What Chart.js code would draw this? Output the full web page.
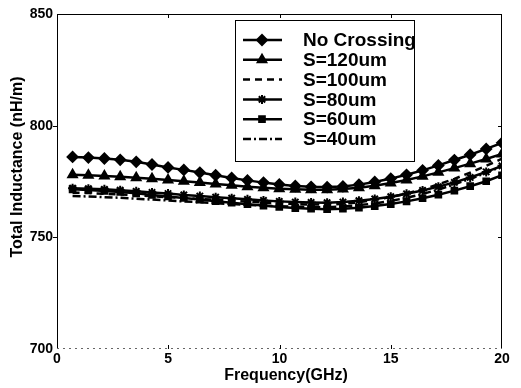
<!DOCTYPE html>
<html>
<head>
<meta charset="utf-8">
<script src="https://cdn.jsdelivr.net/npm/chart.js@4.4.1/dist/chart.umd.min.js"></script>
<style>
  html, body { margin: 0; padding: 0; background: #fff; }
  canvas { display: block; }
</style>
</head>
<body>
<canvas id="c" width="521" height="388"></canvas>
<script>
// Frequency sweep points (GHz)
const freqGHz = [0.70, 1.41, 2.13, 2.84, 3.56, 4.27, 4.99, 5.70, 6.42, 7.13,
                 7.85, 8.56, 9.28, 9.99, 10.71, 11.42, 12.14, 12.85, 13.57, 14.28,
                 15.00, 15.71, 16.43, 17.14, 17.86, 18.57, 19.29, 20.00];

// Total inductance (nH/m) for each crossing spacing
const noCrossing = [786.0, 785.7, 785.3, 784.7, 783.8, 782.6, 781.3, 780.2, 779.0, 777.8,
                    776.6, 775.5, 774.5, 773.7, 773.0, 772.6, 772.5, 772.8, 773.6, 774.8,
                    776.3, 778.0, 780.0, 782.2, 784.6, 787.0, 789.6, 792.3];
const s120 = [778.0, 777.8, 777.5, 777.1, 776.7, 776.2, 775.7, 775.1, 774.5, 773.9,
              773.3, 772.7, 772.2, 771.8, 771.5, 771.3, 771.3, 771.6, 772.2, 773.1,
              774.3, 775.7, 777.3, 779.1, 781.0, 783.0, 785.1, 787.3];
const s100 = [770.0, 769.8, 769.5, 769.2, 768.8, 768.4, 768.0, 767.6, 767.2, 766.8,
              766.4, 766.0, 765.6, 765.2, 764.9, 764.7, 764.6, 765.0, 765.7, 766.7,
              768.0, 769.6, 771.5, 773.7, 776.2, 779.0, 782.0, 785.2];
const s80 = [772.0, 771.8, 771.5, 771.1, 770.6, 770.1, 769.6, 769.0, 768.5, 768.0,
             767.5, 767.0, 766.5, 766.1, 765.8, 765.6, 765.5, 765.8, 766.4, 767.2,
             768.2, 769.5, 771.0, 772.7, 774.6, 776.8, 779.3, 782.0];
const s60 = [771.5, 771.2, 770.8, 770.3, 769.7, 769.0, 768.3, 767.6, 766.9, 766.2,
             765.5, 764.8, 764.2, 763.6, 763.1, 762.8, 762.6, 762.8, 763.3, 764.0,
             764.9, 766.1, 767.5, 769.1, 770.9, 772.9, 775.1, 777.8];
const s40 = [768.5, 768.3, 768.0, 767.7, 767.3, 766.9, 766.5, 766.1, 765.7, 765.3,
             764.9, 764.5, 764.2, 763.9, 763.7, 763.5, 763.5, 763.8, 764.4, 765.2,
             766.3, 767.7, 769.4, 771.4, 773.7, 776.2, 778.9, 781.8];

const seriesNames = ['No Crossing', 'S=120um', 'S=100um', 'S=80um', 'S=60um', 'S=40um'];
const xTickValues = [0, 5, 10, 15, 20];
const yTickValues = [700, 750, 800, 850];

const FONT = '"Liberation Sans", Arial, Helvetica, sans-serif';

const styles = [
  { pointStyle: 'rectRot',  pointRadius: 5,   borderDash: [] },
  { pointStyle: 'triangle', pointRadius: 5,   borderDash: [] },
  { pointStyle: false,      pointRadius: 0,   borderDash: [7, 5] },
  { pointStyle: 'star',     pointRadius: 4.5, borderDash: [] },
  { pointStyle: 'rect',     pointRadius: 4,   borderDash: [] },
  { pointStyle: false,      pointRadius: 0,   borderDash: [8, 3, 2, 3] }
];

const seriesValues = [noCrossing, s120, s100, s80, s60, s40];

const datasets = seriesValues.map((vals, i) => ({
  label: seriesNames[i],
  data: vals.map((v, k) => ({ x: freqGHz[k], y: v })),
  borderColor: '#000',
  backgroundColor: '#000',
  borderWidth: 2.5,
  borderDash: styles[i].borderDash,
  pointStyle: styles[i].pointStyle,
  pointRadius: styles[i].pointRadius,
  pointBorderWidth: 2,
  pointBackgroundColor: '#000',
  pointBorderColor: '#000',
  tension: 0
}));

// Box frame, inward ticks, axis titles and the legend panel
const framePlugin = {
  id: 'frame',
  afterDraw(chart) {
    const { ctx, chartArea: a, scales: { x, y } } = chart;
    ctx.save();
    ctx.strokeStyle = '#000';
    ctx.lineWidth = 1;

    // left, right and top axes
    ctx.beginPath();
    ctx.moveTo(a.left + 0.5, a.top); ctx.lineTo(a.left + 0.5, a.bottom);
    ctx.moveTo(a.right - 0.5, a.top); ctx.lineTo(a.right - 0.5, a.bottom);
    ctx.moveTo(a.left, a.top + 0.5); ctx.lineTo(a.right, a.top + 0.5);
    ctx.stroke();

    // bottom axis (light, broken)
    ctx.save();
    ctx.strokeStyle = '#666';
    ctx.setLineDash([2, 4]);
    ctx.beginPath();
    ctx.moveTo(a.left, a.bottom - 0.5); ctx.lineTo(a.right, a.bottom - 0.5);
    ctx.stroke();
    ctx.restore();

    // ticks
    ctx.beginPath();
    xTickValues.slice(1, -1).forEach(v => {
      const px = Math.round(x.getPixelForValue(v)) + 0.5;
      ctx.moveTo(px, a.bottom); ctx.lineTo(px, a.bottom - 4);
      ctx.moveTo(px, a.top); ctx.lineTo(px, a.top + 4);
    });
    yTickValues.slice(1, -1).forEach(v => {
      const py = Math.round(y.getPixelForValue(v)) + 0.5;
      ctx.moveTo(a.left - 4, py); ctx.lineTo(a.left, py);
      ctx.moveTo(a.right, py); ctx.lineTo(a.right - 4, py);
    });
    ctx.stroke();

    // axis titles
    ctx.fillStyle = '#000';
    ctx.font = 'bold 16px ' + FONT;
    ctx.textAlign = 'center';
    ctx.textBaseline = 'middle';
    ctx.fillText('Frequency(GHz)', 286, 376);
    ctx.save();
    ctx.translate(18, 167);
    ctx.rotate(-Math.PI / 2);
    ctx.fillText('Total Inductance (nH/m)', 0, 0);
    ctx.restore();

    // legend panel
    const bx = 235, by = 20, bw = 179, bh = 141;
    ctx.fillStyle = '#fff';
    ctx.fillRect(bx, by, bw, bh);
    ctx.strokeStyle = '#000';
    ctx.lineWidth = 1;
    ctx.strokeRect(bx + 0.5, by + 0.5, bw, bh);

    chart.data.datasets.forEach((ds, i) => {
      const rowY = 40 + i * 19.8;
      ctx.save();
      ctx.strokeStyle = '#000';
      ctx.lineWidth = 2.5;
      ctx.setLineDash(ds.borderDash || []);
      ctx.beginPath();
      ctx.moveTo(243, rowY); ctx.lineTo(282, rowY);
      ctx.stroke();
      ctx.restore();
      if (ds.pointStyle) {
        ctx.save();
        ctx.fillStyle = '#000';
        ctx.strokeStyle = '#000';
        ctx.lineWidth = 2;
        Chart.helpers.drawPoint(ctx, {
          pointStyle: ds.pointStyle, radius: ds.pointRadius,
          borderWidth: 2, rotation: 0
        }, 262, rowY);
        ctx.restore();
      }
      ctx.fillStyle = '#000';
      ctx.font = 'bold 19px ' + FONT;
      ctx.textAlign = 'left';
      ctx.textBaseline = 'middle';
      ctx.fillText(ds.label, 303, rowY + 1);
    });
    ctx.restore();
  }
};

new Chart(document.getElementById('c'), {
  type: 'line',
  data: { datasets },
  options: {
    responsive: false,
    animation: false,
    devicePixelRatio: 1,
    layout: { padding: { top: 14, right: 19, left: 0, bottom: 0 } },
    plugins: { legend: { display: false }, tooltip: { enabled: false } },
    scales: {
      x: {
        type: 'linear', min: 0, max: 20,
        afterBuildTicks: s => { s.ticks = xTickValues.map(v => ({ value: v })); },
        afterFit: s => { s.height = 39; },
        grid: { display: false, drawTicks: false },
        border: { display: false },
        ticks: { color: '#000', padding: 2, maxRotation: 0,
                 font: { family: FONT, size: 14, weight: 'bold' } }
      },
      y: {
        type: 'linear', min: 700, max: 850,
        afterBuildTicks: s => { s.ticks = yTickValues.map(v => ({ value: v })); },
        afterFit: s => { s.width = 57; },
        grid: { display: false, drawTicks: false },
        border: { display: false },
        ticks: { color: '#000', padding: 4,
                 font: { family: FONT, size: 14, weight: 'bold' } }
      }
    }
  },
  plugins: [framePlugin]
});
</script>
</body>
</html>
